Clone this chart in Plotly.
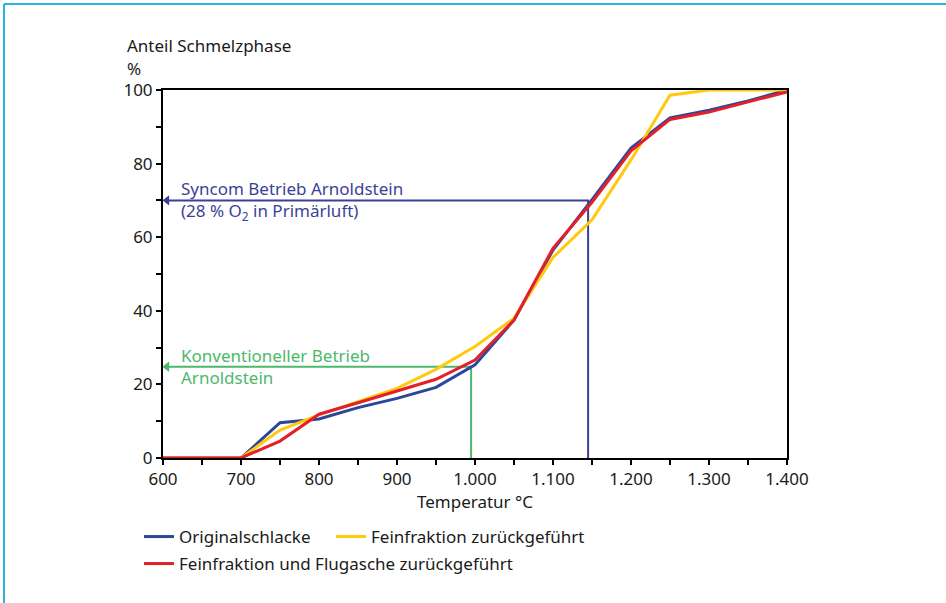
import plotly.graph_objects as go

temps = [600, 700, 750, 800, 850, 900, 950, 1000, 1050, 1100, 1150, 1200, 1250, 1300, 1350, 1400]
original = [0, 0, 9.6, 10.6, 13.7, 16.2, 19.2, 25.3, 37.5, 56.5, 70.2, 84.2, 92.4, 94.5, 97.0, 100]
fein = [0, 0, 7.6, 11.7, 15.3, 18.9, 24.1, 30.3, 38.0, 54.5, 64.7, 81.0, 98.6, 100, 100, 100]
fein_flug = [0, 0, 4.6, 11.9, 15.0, 18.2, 21.4, 26.6, 37.5, 57.0, 69.5, 83.5, 92.0, 94.0, 96.8, 99.5]

names = ["Originalschlacke", "Feinfraktion zurückgeführt", "Feinfraktion und Flugasche zurückgeführt"]
colors = ["#2b479b", "#ffc90e", "#e3202a"]
legends = ["legend", "legend2", "legend3"]

syncom_temp, syncom_val = 1145, 70
konv_temp, konv_val = 995, 24.8
arrow_tip = 605

xticks = [600, 700, 800, 900, 1000, 1100, 1200, 1300, 1400]
yticks = [0, 20, 40, 60, 80, 100]

FONT = "Noto Sans"
TXT = "#1a1a1a"
NAVY = "#3d3f96"
GREEN = "#4cb86c"

fig = go.Figure()

# guide lines with arrow heads
for t, v, c in [(syncom_temp, syncom_val, NAVY), (konv_temp, konv_val, GREEN)]:
    fig.add_trace(go.Scatter(x=[t, t, arrow_tip], y=[0, v, v], mode="lines",
                             line=dict(color=c, width=2), showlegend=False, hoverinfo="skip"))
    fig.add_trace(go.Scatter(x=[arrow_tip], y=[v], mode="markers",
                             marker=dict(symbol="triangle-left", size=9, color=c),
                             showlegend=False, hoverinfo="skip"))

for name, ys, c, lg in zip(names, [original, fein, fein_flug], colors, legends):
    fig.add_trace(go.Scatter(x=temps, y=ys, mode="lines", name=name, legend=lg,
                             line=dict(color=c, width=3)))

anns = [
    dict(x=620, y=syncom_val, xref="x", yref="y", xanchor="left", yanchor="middle", showarrow=False,
         align="left", text="Syncom Betrieb Arnoldstein<br>(28 % O<sub>2</sub> in Primärluft)",
         font=dict(family=FONT, size=17, color=NAVY)),
    dict(x=620, y=konv_val, xref="x", yref="y", xanchor="left", yanchor="middle", showarrow=False,
         align="left", text="Konventioneller Betrieb<br>Arnoldstein",
         font=dict(family=FONT, size=17, color=GREEN)),
    dict(x=-38 / 624, y=(458 - 46) / 368, xref="paper", yref="paper", xanchor="left", yanchor="middle",
         showarrow=False, text="Anteil Schmelzphase", font=dict(family=FONT, size=17, color=TXT)),
    dict(x=-38 / 624, y=(458 - 69) / 368, xref="paper", yref="paper", xanchor="left", yanchor="middle",
         showarrow=False, text="%", font=dict(family=FONT, size=17, color=TXT)),
]

BORDER = "#2bb3e6"
shapes = [
    dict(type="line", xref="paper", yref="paper", x0=(4 - 163) / 624, x1=(946 - 163) / 624,
         y0=(458 - 4) / 368, y1=(458 - 4) / 368, line=dict(color=BORDER, width=2)),
    dict(type="line", xref="paper", yref="paper", x0=(4 - 163) / 624, x1=(4 - 163) / 624,
         y0=(458 - 4) / 368, y1=(458 - 603) / 368, line=dict(color=BORDER, width=2)),
]

legend_common = dict(orientation="h", xanchor="left", yanchor="middle", itemwidth=30,
                     font=dict(family=FONT, size=17, color=TXT), traceorder="normal",
                     bgcolor="rgba(0,0,0,0)")

fig.update_layout(
    width=946, height=603,
    margin=dict(l=163, r=159, t=90, b=145),
    paper_bgcolor="white", plot_bgcolor="white",
    separators=",.",
    font=dict(family=FONT, size=17, color=TXT),
    annotations=anns, shapes=shapes,
    showlegend=True,
    legend=dict(x=-24 / 624, y=-79 / 368, **legend_common),
    legend2=dict(x=168 / 624, y=-79 / 368, **legend_common),
    legend3=dict(x=-24 / 624, y=-106 / 368, **legend_common),
)
fig.update_xaxes(range=[600, 1400], tickvals=xticks, tickformat=",d", separatethousands=True,
                 showline=True, linecolor="black", linewidth=2, mirror=True, showgrid=False, zeroline=False,
                 ticks="outside", ticklen=5, tickwidth=1.5, tickcolor="black",
                 minor=dict(dtick=50, ticks="outside", ticklen=5, tickwidth=1.5, tickcolor="black", showgrid=False),
                 title=dict(text="Temperatur °C", font=dict(family=FONT, size=17, color=TXT), standoff=6))
fig.update_yaxes(range=[0, 100], tickvals=yticks,
                 showline=True, linecolor="black", linewidth=2, mirror=True, showgrid=False, zeroline=False,
                 ticks="outside", ticklen=5, tickwidth=1.5, tickcolor="black",
                 minor=dict(dtick=10, ticks="outside", ticklen=5, tickwidth=1.5, tickcolor="black", showgrid=False))

fig.write_html("out.html", config={"displayModeBar": False},
               post_script="document.body.style.margin='0';")
